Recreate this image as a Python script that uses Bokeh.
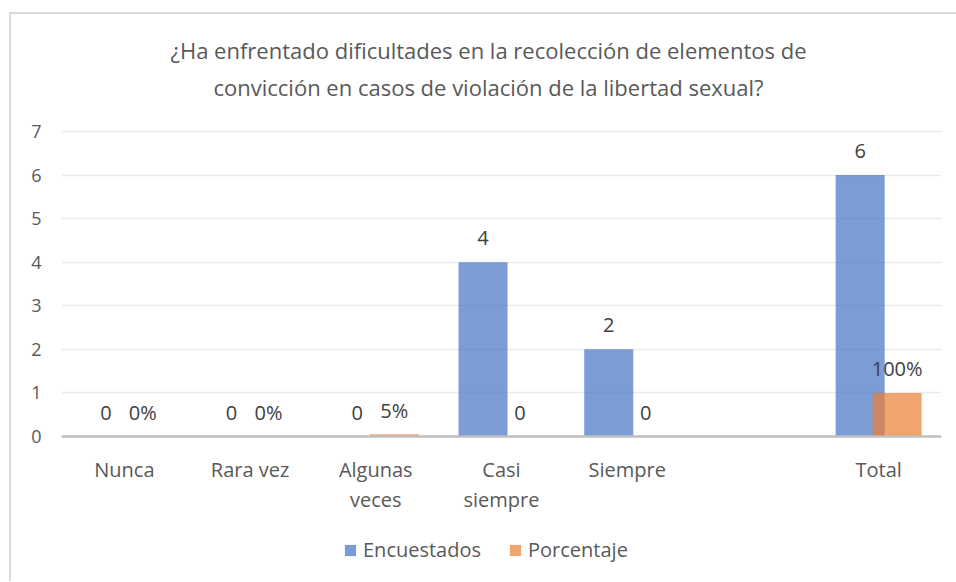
from bokeh.plotting import figure
from bokeh.models import (Range1d, FixedTicker, ColumnDataSource, Legend, LegendItem, Span)
from bokeh.core.properties import value
from bokeh.embed import file_html
from bokeh.resources import INLINE

# ---- data ----
categories = ["Nunca", "Rara vez", "Algunas veces", "Casi siempre", "Siempre", "", "Total"]
tick_labels = ["Nunca", "Rara vez", "Algunas\nveces", "Casi\nsiempre", "Siempre", "", "Total"]
encuestados = [0, 0, 0, 4, 2, None, 6]
porcentaje = [0, 0, 0.05, 0, 0, None, 1]
enc_labels = ["0", "0", "0", "4", "2", "", "6"]
pct_labels = ["0%", "0%", "5%", "0", "0", "", "100%"]
y_ticks = [0, 1, 2, 3, 4, 5, 6, 7]
title_lines = ["¿Ha enfrentado dificultades en la recolección de elementos de",
               "convicción en casos de violación de la libertad sexual?"]

# ---- style / layout ----
FONT = "Open Sans"
TXT = "#595959"
BLUE = "#4472C4"
ORANGE = "#ED7D31"
OFF = 0.147
BW = 0.39
FRAME_W = 880
FRAME_H = 567
UNIT_PX = 305 / 7          # pixels per y unit
TOP_GAP = 117              # px from frame top to the y=7 gridline
y_end = 7 + TOP_GAP / UNIT_PX
y_start = y_end - FRAME_H / UNIT_PX

idx = [i for i, v in enumerate(encuestados) if v is not None]
enc_src = ColumnDataSource(dict(
    x=[i + 0.5 - OFF for i in idx],
    y=[encuestados[i] for i in idx],
    lab=[enc_labels[i] for i in idx]))
pct_src = ColumnDataSource(dict(
    x=[i + 0.5 + OFF for i in idx],
    y=[porcentaje[i] for i in idx],
    lab=[pct_labels[i] for i in idx]))
cat_idx = [i for i, c in enumerate(categories) if c]
cat_src = ColumnDataSource(dict(
    x=[i + 0.5 for i in cat_idx],
    y=[0] * len(cat_idx),
    lab=[tick_labels[i] for i in cat_idx]))
ttl_src = ColumnDataSource(dict(
    x=[len(categories) / 2] * 2,
    y=[max(y_ticks)] * 2,
    lab=title_lines,
    dy=[-82, -45]))

p = figure(frame_width=FRAME_W, frame_height=FRAME_H, output_backend="svg",
           toolbar_location=None,
           x_range=Range1d(0, len(categories)), y_range=Range1d(y_start, y_end),
           min_border_left=50, min_border_right=15, min_border_top=0,
           min_border_bottom=0)
p.styles = {"border-left": "2px solid #d9d9d9", "border-top": "2px solid #d9d9d9",
            "margin-left": "9px", "margin-top": "12px"}
p.outline_line_color = None
p.background_fill_color = "white"
p.border_fill_color = "white"

# title
p.text(x="x", y="y", text="lab", y_offset="dy", x_offset=-13, source=ttl_src,
       text_font=value(FONT), text_font_size="22px", text_color=TXT,
       text_align="center", text_baseline="middle")

# bars
r_enc = p.vbar(x="x", top="y", width=BW, bottom=0, source=enc_src,
               fill_color=BLUE, fill_alpha=0.7, line_color=None)
r_pct = p.vbar(x="x", top="y", width=BW, bottom=0, source=pct_src,
               fill_color=ORANGE, fill_alpha=0.7, line_color=None)

# data labels
for src in (enc_src, pct_src):
    p.text(x="x", y="y", text="lab", source=src, text_font=value(FONT),
           text_font_size="20px", text_color="#404040", text_align="center",
           text_baseline="alphabetic", y_offset=-24)

# category axis (line + labels)
p.add_layout(Span(location=0, dimension="width", line_color="#bfbfbf", line_width=2.5))
p.text(x="x", y="y", text="lab", source=cat_src, text_font=value(FONT),
       text_font_size="20px", text_color=TXT, text_align="center",
       text_baseline="top", y_offset=19, text_line_height=1.12)
p.xaxis.visible = False

ya = p.yaxis[0]
ya.ticker = FixedTicker(ticks=y_ticks)
ya.axis_line_color = None
ya.major_tick_line_color = None
ya.minor_tick_line_color = None
ya.major_label_text_font = FONT
ya.major_label_text_font_size = "18px"
ya.major_label_text_color = TXT
ya.major_label_standoff = 14

p.xgrid.grid_line_color = None
p.ygrid.ticker = FixedTicker(ticks=y_ticks)
p.ygrid.grid_line_color = "#ebebeb"
p.ygrid.grid_line_width = 1.5

legend = Legend(items=[LegendItem(label="Encuestados", renderers=[r_enc]),
                       LegendItem(label="Porcentaje", renderers=[r_pct])],
                orientation="horizontal", location=(282, 18),
                label_text_font=FONT, label_text_font_size="20px", label_text_color=TXT,
                glyph_width=14, glyph_height=14, spacing=27, label_standoff=6,
                border_line_color=None, background_fill_alpha=0, padding=0, margin=0)
p.add_layout(legend, "center")

open("out.html", "w").write(file_html(p, INLINE))
